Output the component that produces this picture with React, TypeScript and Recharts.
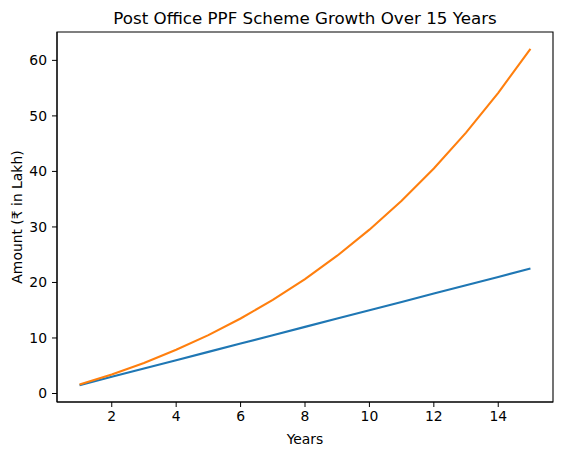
import { LineChart, Line, XAxis, YAxis, ReferenceArea } from 'recharts';

const years = [1, 2, 3, 4, 5, 6, 7, 8, 9, 10, 11, 12, 13, 14, 15];
const invested = [1.5, 3, 4.5, 6, 7.5, 9, 10.5, 12, 13.5, 15, 16.5, 18, 19.5, 21, 22.5];
const maturity = [1.6, 3.43, 5.51, 7.87, 10.52, 13.51, 16.86, 20.62, 24.82, 29.51, 34.73, 40.54, 46.99, 54.15, 62.08];
const xTicks = [2, 4, 6, 8, 10, 12, 14];
const yTicks = [0, 10, 20, 30, 40, 50, 60];

const data = years.map((year, i) => ({ year, invested: invested[i], maturity: maturity[i] }));

const FONT = '"DejaVu Sans", sans-serif';
const X_DOMAIN: [number, number] = [0.3, 15.7];
const Y_DOMAIN: [number, number] = [-1.53, 65.11];

export default function App() {
  return (
    <div style={{ position: 'absolute', left: 0, top: 0, width: 562, height: 455, background: '#fff', fontFamily: FONT }}>
      <div
        style={{
          position: 'absolute',
          left: 57,
          width: 496,
          top: 8,
          textAlign: 'center',
          fontSize: 16.7,
          lineHeight: '20px',
          color: '#000',
        }}
      >
        Post Office PPF Scheme Growth Over 15 Years
      </div>
      <LineChart width={562} height={455} data={data} margin={{ top: 32, right: 9, bottom: 0, left: 0 }}>
        <XAxis
          dataKey="year"
          type="number"
          domain={X_DOMAIN}
          ticks={xTicks}
          allowDataOverflow
          height={53}
          tickSize={5}
          tickMargin={4}
          stroke="#000"
          tick={{ fill: '#000', fontSize: 13.9, fontFamily: FONT }}
          label={{ value: 'Years', position: 'insideBottom', offset: 11, fill: '#000', fontSize: 13.9, fontFamily: FONT }}
        />
        <YAxis
          type="number"
          domain={Y_DOMAIN}
          ticks={yTicks}
          allowDataOverflow
          width={57}
          tickSize={5}
          tickMargin={5}
          stroke="#000"
          tick={{ fill: '#000', fontSize: 13.9, fontFamily: FONT }}
          label={{
            value: 'Amount (₹ in Lakh)',
            angle: -90,
            position: 'insideLeft',
            offset: 17,
            fill: '#000',
            fontSize: 13.9,
            fontFamily: FONT,
            style: { textAnchor: 'middle' },
          }}
        />
        <ReferenceArea x1={X_DOMAIN[0]} x2={X_DOMAIN[1]} y1={Y_DOMAIN[0]} y2={Y_DOMAIN[1]} fill="none" stroke="#000" strokeWidth={1.1} />
        <Line dataKey="invested" stroke="#1f77b4" strokeWidth={2.1} dot={false} isAnimationActive={false} />
        <Line dataKey="maturity" stroke="#ff7f0e" strokeWidth={2.1} dot={false} isAnimationActive={false} />
      </LineChart>
    </div>
  );
}
